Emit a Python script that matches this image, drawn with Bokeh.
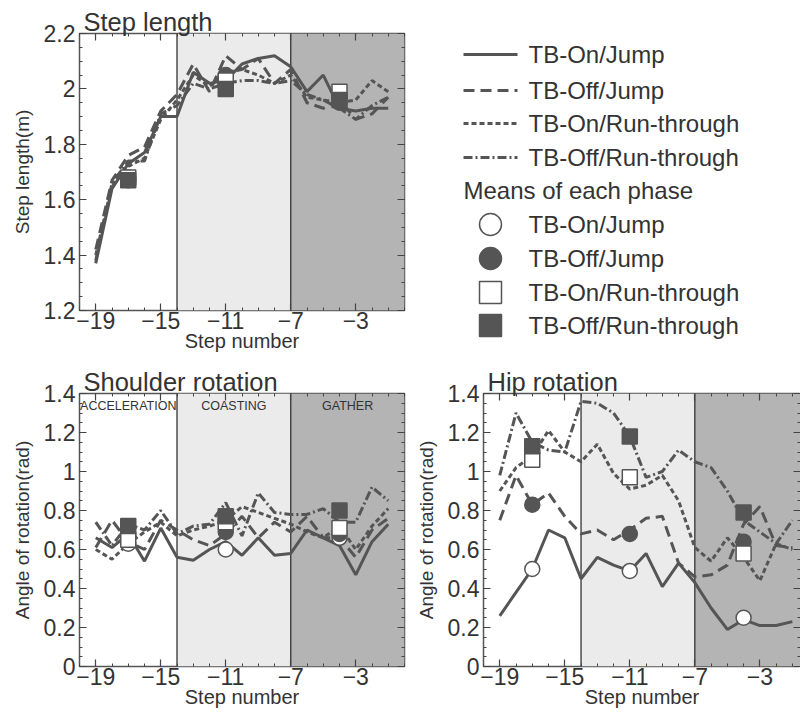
import numpy as np
from bokeh.plotting import figure
from bokeh.models import (Range1d, FixedTicker, LinearAxis, BoxAnnotation, Span,
                          CustomJSTickFormatter)
from bokeh.layouts import row, column
from bokeh.embed import file_html
from bokeh.resources import INLINE
from bokeh.core.properties import value

# ---------------- data ----------------
steps = list(range(-19, 0))
x_ticks = [-19, -15, -11, -7, -3]
phase_edges = [-20, -14, -7, 0]
phase_names = ["ACCELERATION", "COASTING", "GATHER"]
phase_label_x = [-17, -10.5, -3.5]
mean_steps = [-17, -11, -4]
series_names = ["TB-On/Jump", "TB-Off/Jump", "TB-On/Run-through", "TB-Off/Run-through"]
means_header = "Means of each phase"

step_y_ticks = [1.2, 1.4, 1.6, 1.8, 2.0, 2.2]
step_y_labels = ["1.2", "1.4", "1.6", "1.8", "2", "2.2"]
rot_y_ticks = [0, 0.2, 0.4, 0.6, 0.8, 1.0, 1.2, 1.4]
rot_y_labels = ["0", "0.2", "0.4", "0.6", "0.8", "1", "1.2", "1.4"]

step_on_jump = [1.37, 1.64, 1.73, 1.77, 1.90, 1.90, 2.06, 2.02, 2.03, 2.09, 2.11, 2.12, 2.08, 1.99, 2.05, 1.93, 1.92, 1.93, 1.93]
step_off_jump = [1.42, 1.67, 1.76, 1.79, 1.92, 1.98, 2.09, 1.99, 2.12, 2.07, 2.11, 2.02, 2.07, 1.95, 1.93, 1.96, 1.89, 1.91, 1.97]
step_on_run = [1.40, 1.65, 1.72, 1.75, 1.89, 1.96, 2.05, 2.01, 2.06, 2.07, 2.05, 2.02, 2.05, 1.97, 1.96, 1.95, 1.96, 2.03, 1.99]
step_off_run = [1.38, 1.66, 1.74, 1.74, 1.91, 1.94, 2.02, 2.00, 2.02, 2.03, 2.03, 2.02, 2.03, 1.98, 1.96, 1.93, 1.89, 1.94, 1.97]
step_mean_on_jump = [1.68, 2.03, 1.97]
step_mean_off_jump = [1.67, 2.05, 1.95]
step_mean_on_run = [1.68, 2.03, 1.99]
step_mean_off_run = [1.67, 2.00, 1.96]

sh_on_jump = [0.66, 0.61, 0.68, 0.54, 0.71, 0.56, 0.545, 0.60, 0.64, 0.57, 0.66, 0.57, 0.58, 0.70, 0.66, 0.62, 0.47, 0.64, 0.73]
sh_off_jump = [0.61, 0.75, 0.64, 0.60, 0.75, 0.70, 0.65, 0.62, 0.68, 0.77, 0.66, 0.74, 0.69, 0.77, 0.66, 0.66, 0.56, 0.70, 0.76]
sh_on_run = [0.60, 0.55, 0.63, 0.69, 0.74, 0.67, 0.70, 0.72, 0.75, 0.82, 0.79, 0.76, 0.73, 0.69, 0.66, 0.72, 0.60, 0.72, 0.81]
sh_off_run = [0.74, 0.62, 0.73, 0.70, 0.80, 0.68, 0.72, 0.73, 0.84, 0.67, 0.89, 0.79, 0.78, 0.78, 0.81, 0.74, 0.74, 0.92, 0.85]
sh_mean_on_jump = [0.63, 0.60, 0.66]
sh_mean_off_jump = [0.67, 0.69, 0.68]
sh_mean_on_run = [0.65, 0.74, 0.71]
sh_mean_off_run = [0.72, 0.77, 0.80]

hip_on_jump = [0.26, 0.38, 0.50, 0.70, 0.66, 0.45, 0.56, 0.52, 0.49, 0.58, 0.41, 0.53, 0.43, 0.30, 0.19, 0.24, 0.21, 0.21, 0.23]
hip_off_jump = [0.75, 0.98, 0.83, 0.89, 0.77, 0.68, 0.70, 0.65, 0.70, 0.76, 0.77, 0.53, 0.46, 0.47, 0.52, 0.73, 0.82, 0.62, 0.61]
hip_on_run = [0.90, 1.02, 1.08, 1.21, 1.10, 1.05, 1.14, 0.99, 0.91, 0.93, 0.98, 0.85, 0.61, 0.54, 0.66, 0.56, 0.44, 0.63, 0.60]
hip_off_run = [0.98, 1.30, 1.15, 1.11, 1.10, 1.36, 1.35, 1.30, 1.18, 0.97, 1.00, 1.11, 1.05, 1.02, 0.90, 0.75, 0.69, 0.63, 0.75]
hip_mean_on_jump = [0.50, 0.49, 0.25]
hip_mean_off_jump = [0.83, 0.68, 0.64]
hip_mean_on_run = [1.06, 0.97, 0.58]
hip_mean_off_run = [1.13, 1.18, 0.79]

# ---------------- style ----------------
FONT = "Liberation Sans"
TXT = "#333333"
LINE = "#555555"
DASHES = ["solid", "11 6", "5 3", "9 3 2 3"]
MARKERS = [("circle", "white"), ("circle", LINE), ("square", "white"), ("square", LINE)]
ZONE_FILLS = [None, "#ebebeb", "#b4b4b4"]


def fmt(ticks, labels):
    return CustomJSTickFormatter(args=dict(tvals=ticks, tlabels=labels), code="""
        for (let i = 0; i < tvals.length; i++) {
            if (Math.abs(tvals[i] - tick) < 1e-9) return tlabels[i];
        }
        return '';""")


def style_axis(ax):
    ax.major_tick_in = 7
    ax.major_tick_out = 0
    ax.minor_tick_in = 3
    ax.minor_tick_out = 0
    ax.axis_line_color = None
    ax.major_tick_line_color = "#444444"
    ax.minor_tick_line_color = "#444444"
    ax.major_tick_line_width = 1.2
    ax.major_label_text_font = FONT
    ax.major_label_text_color = TXT
    ax.axis_label_text_font = FONT
    ax.axis_label_text_color = TXT
    ax.axis_label_text_font_style = "normal"
    ax.major_label_text_font_size = "23px"


def mirror_axis(ticker):
    ax = LinearAxis(ticker=ticker,
                    formatter=CustomJSTickFormatter(code="return '';"))
    style_axis(ax)
    ax.major_label_text_font_size = "1px"
    ax.major_label_standoff = 0
    ax.axis_label_standoff = 0
    return ax


def panel(title, ylabel, yr, yticks, ylabels, lines, means, width, height,
          mb_left, mb_right, mb_top, mb_bottom, xend, phase_text=False):
    p = figure(width=width, height=height, x_range=Range1d(-20, xend),
               y_range=Range1d(*yr), output_backend="svg", toolbar_location=None,
               min_border_left=mb_left, min_border_right=mb_right,
               min_border_top=mb_top, min_border_bottom=mb_bottom, frame_align=False)
    p.grid.visible = False
    p.outline_line_color = "#555555"
    p.outline_line_width = 1.5
    p.title.text = title
    p.title.text_font = FONT
    p.title.text_font_size = "25.5px"
    p.title.text_font_style = "normal"
    p.title.text_color = TXT
    p.title.offset = 4
    p.title.standoff = -5

    xtick = FixedTicker(ticks=x_ticks, minor_ticks=list(range(-20, 1)))
    ytick = FixedTicker(ticks=yticks,
                        minor_ticks=[float(v) for v in np.round(np.arange(yr[0], yr[1] + 1e-9, 0.05), 3)])
    p.xaxis.ticker = xtick
    p.yaxis.ticker = ytick
    p.yaxis.formatter = fmt(yticks, ylabels)
    p.xaxis.axis_label = "Step number"
    p.yaxis.axis_label = ylabel
    for ax in p.xaxis + p.yaxis:
        style_axis(ax)
    p.xaxis.major_label_standoff = 1
    p.xaxis.axis_label_standoff = -2
    p.xaxis.axis_label_text_font_size = "20px"
    p.yaxis.major_label_standoff = 4
    p.yaxis.axis_label_standoff = 8
    p.yaxis.axis_label_text_font_size = "19px"

    p.add_layout(mirror_axis(xtick), "above")
    p.add_layout(mirror_axis(ytick), "right")

    for i in (1, 2):
        p.add_layout(BoxAnnotation(left=phase_edges[i],
                                   right=phase_edges[i + 1] if i < 2 else None,
                                   fill_color=ZONE_FILLS[i], fill_alpha=1.0,
                                   line_color=None, level="underlay"))
        p.add_layout(Span(location=phase_edges[i], dimension="height",
                          line_color="#333333", line_width=1.3, level="underlay"))

    if phase_text:
        p.text(x=phase_label_x, y=[yr[1] - 0.065] * 3, text=phase_names,
               text_align="center", text_baseline="middle",
               text_font=value(FONT), text_font_size="12.5px", text_color=TXT)

    for vals, dash in zip(lines, DASHES):
        p.line(steps, vals, line_color=LINE, line_width=3, line_dash=dash)
    for vals, (mk, fill) in zip(means, MARKERS):
        p.scatter(mean_steps, vals, marker=mk, size=15, fill_color=fill,
                  line_color=LINE, line_width=1.5)
    return p


H1, H2 = 368, 343
W1 = 409          # left-hand column width
W2 = 800 - W1     # right-hand column width

p1 = panel("Step length", "Step length(m)", (1.2, 2.2), step_y_ticks, step_y_labels,
           [step_on_jump, step_off_jump, step_on_run, step_off_run],
           [step_mean_on_jump, step_mean_off_jump, step_mean_on_run, step_mean_off_run],
           W1, H1, 79, 5, 33, 58, 0)
p2 = panel("Shoulder rotation", "Angle of rotation(rad)", (0, 1.4), rot_y_ticks, rot_y_labels,
           [sh_on_jump, sh_off_jump, sh_on_run, sh_off_run],
           [sh_mean_on_jump, sh_mean_off_jump, sh_mean_on_run, sh_mean_off_run],
           W1, H2, 79, 5, 25, 45, 0, phase_text=True)
p3 = panel("Hip rotation", "Angle of rotation(rad)", (0, 1.4), rot_y_ticks, rot_y_labels,
           [hip_on_jump, hip_off_jump, hip_on_run, hip_off_run],
           [hip_mean_on_jump, hip_mean_off_jump, hip_mean_on_run, hip_mean_off_run],
           W2, H2, 74, 0, 25, 45, -0.5)

# ---------------- legend panel ----------------
pl = figure(width=W2, height=H1, x_range=Range1d(0, W2), y_range=Range1d(H1, 0),
            x_axis_type=None, y_axis_type=None, title=None,
            output_backend="svg", toolbar_location=None, min_border=0,
            frame_align=False)
pl.grid.visible = False
pl.outline_line_color = None

line_rows = [54, 90, 123, 157]
marker_rows = [224, 258, 292, 325]
header_row = 190
for yrow, dash in zip(line_rows, DASHES):
    pl.line([54, 108], [yrow, yrow], line_color=LINE, line_width=3, line_dash=dash)
for yrow, (mk, fill) in zip(marker_rows, MARKERS):
    pl.scatter([81], [yrow], marker=mk, size=22, fill_color=fill,
               line_color=LINE, line_width=1.5)
pl.text(x=[119] * 4, y=line_rows, text=series_names, text_baseline="middle",
        text_font=value(FONT), text_font_size="24px", text_color=TXT)
pl.text(x=[119] * 4, y=marker_rows, text=series_names, text_baseline="middle",
        text_font=value(FONT), text_font_size="24px", text_color=TXT)
pl.text(x=[54], y=[header_row], text=[means_header], text_baseline="middle",
        text_font=value(FONT), text_font_size="24px", text_color=TXT)

layout = column(row(p1, pl), row(p2, p3))
open("out.html", "w").write(file_html(layout, INLINE))
